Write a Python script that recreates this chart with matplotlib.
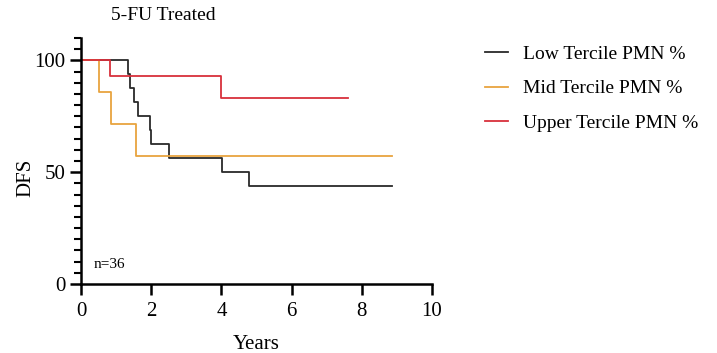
import matplotlib
matplotlib.use("Agg")
import matplotlib.pyplot as plt
from matplotlib.ticker import MultipleLocator

plt.rcParams['font.family'] = ['Liberation Serif', 'DejaVu Serif']

# Kaplan-Meier step data (years, DFS %)
low_t = [0, 1.35, 1.41, 1.52, 1.62, 1.96, 2.0, 2.51, 4.02, 4.8, 8.85]
low_s = [100, 93.75, 87.5, 81.25, 75, 68.75, 62.5, 56.25, 50, 43.75, 43.75]
mid_t = [0, 0.52, 0.86, 1.58, 8.85]
mid_s = [100, 85.7, 71.4, 57.1, 57.1]
up_t = [0, 0.84, 3.98, 7.6]
up_s = [100, 92.86, 83.3, 83.3]

labels = ["Low Tercile PMN %", "Mid Tercile PMN %", "Upper Tercile PMN %"]
colors = ["#2a2a2a", "#E8A43F", "#D8303C"]

fig = plt.figure(figsize=(7.17, 3.53), dpi=100)
ax = fig.add_axes([81/717, 1-284/353, 351/717, 246/353])

for t, s, c, l in zip([low_t, mid_t, up_t], [low_s, mid_s, up_s], colors, labels):
    ax.step(t, s, where='post', color=c, lw=1.3, label=l)

ax.set_xlim(0, 10)
ax.set_ylim(0, 110)
ax.set_xticks([0, 2, 4, 6, 8, 10])
ax.set_yticks([0, 50, 100])
ax.yaxis.set_minor_locator(MultipleLocator(5))
for side in ['top', 'right']:
    ax.spines[side].set_visible(False)
for side in ['left', 'bottom']:
    ax.spines[side].set_linewidth(1.8)
ax.tick_params(which='major', length=8, width=1.8, labelsize=15, direction='out', pad=3)
ax.tick_params(axis='x', which='major', pad=5)
ax.tick_params(which='minor', length=5, width=1.5, direction='out')
ax.set_xlabel("Years", fontsize=15, labelpad=10)
ax.set_ylabel("DFS", fontsize=15)
ax.yaxis.set_label_coords(-0.13, 0.43)
ax.text(0.35, 7, "n=36", fontsize=11)
fig.text(163/717, 1-16/353, "5-FU Treated", ha='center', va='center', fontsize=14)

leg = ax.legend(loc='upper left', bbox_to_anchor=(1.1, 1.04), frameon=False,
                fontsize=14, handlelength=1.2, handletextpad=0.8, labelspacing=0.85)
for h in leg.get_lines():
    h.set_linewidth(1.3)

fig.savefig("out.png", dpi=100)
